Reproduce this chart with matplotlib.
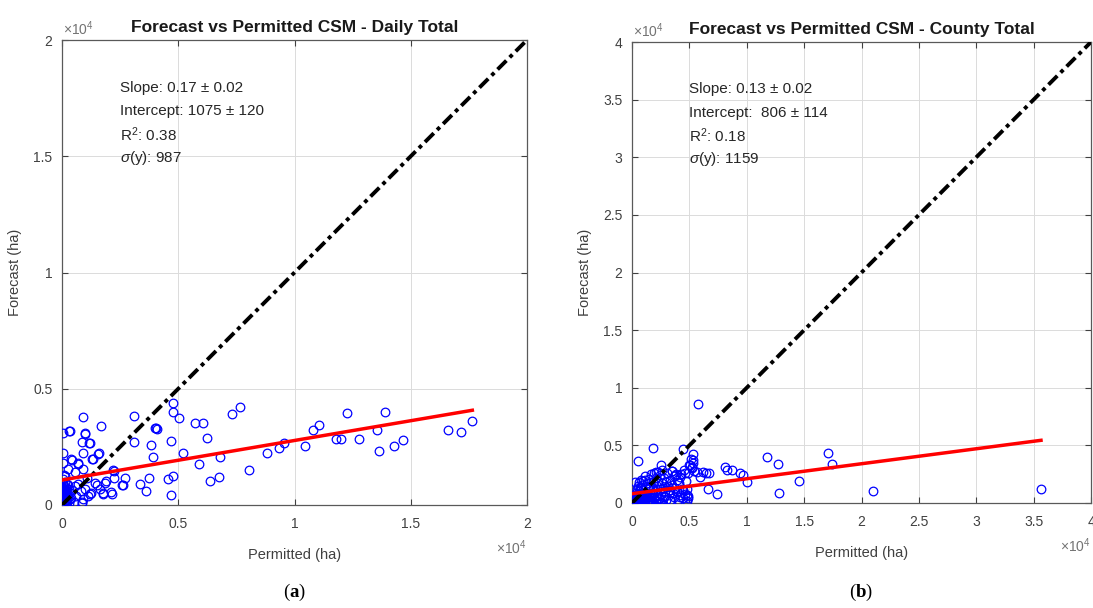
import matplotlib
matplotlib.use("Agg")
import matplotlib.pyplot as plt
import numpy as np

plt.rcParams["font.family"] = ["Liberation Sans", "DejaVu Sans"]
plt.rcParams["mathtext.fontset"] = "custom"
plt.rcParams["mathtext.rm"] = "Liberation Sans"
plt.rcParams["mathtext.it"] = "Liberation Sans:italic"
plt.rcParams["mathtext.bf"] = "Liberation Serif:bold"

# ---- panel (a): daily totals, permitted vs forecast (ha) ----
daily_permitted = [
    4789, 4789, 5046, 7656, 7326, 3111, 918, 315, 29, 1663, 989, 846, 1176, 918, 57,
    373, 1348, 1606, 29, 674, 3111, 3828, 3928, 4020, 4100, 4060, 4674, 5190, 5720,
    6079, 6251, 5906, 6796, 8057, 6753, 6366, 4760, 4545, 4674, 3756, 3613, 3355,
    2710, 2609, 2237, 2237, 2093, 1849, 1778, 1491, 1233, 846, 8803, 9348, 9563,
    10452, 10810, 11068, 11785, 12000, 12272, 12788, 13534, 13892, 13634, 14280,
    14681, 16616, 17147, 17649,
    344, 989, 1204, 1563, 1277, 416, 702, 272, 918, 559, 129, 1061, 2208, 2566,
    2137, 1778, 1204, 846, 1400, 1650, 1900,
    0, 20, 40, 60, 80, 100, 120, 150, 180, 200, 230, 250, 280, 300, 330, 30, 50,
    70, 10, 110, 160, 210, 260, 350, 400, 450, 500, 550, 600, 700, 800, 900, 1000,
    1100, 15, 35, 55, 75, 95, 130, 170, 190, 5, 45, 65, 85,
    25, 60, 90, 140, 0, 110, 220, 70,
]
daily_forecast = [
    4400, 4013, 3728, 4229, 3914, 3828, 3799, 3197, 3111, 3398, 3054, 2724, 2652,
    2251, 2251, 1993, 1978, 2222, 1792, 1792, 2695, 2581, 2050, 3298, 3250, 3330,
    2753, 2222, 3541, 3541, 2896, 1749, 2079, 1505, 1219, 1047, 1247, 1104, 430,
    1147, 602, 889, 1176, 860, 1462, 1147, 573, 932, 502, 860, 502, 100, 2222,
    2437, 2652, 2538, 3226, 3441, 2839, 2839, 3943, 2824, 3226, 3986, 2337, 2538,
    2796, 3226, 3125, 3627,
    3197, 3082, 2652, 2194, 1978, 1935, 1763, 1534, 1534, 1434, 1247, 1147, 1505,
    860, 473, 473, 473, 143, 950, 700, 1050,
    100, 300, 600, 200, 450, 800, 50, 350, 650, 150, 900, 400, 100, 700, 250, 950,
    1100, 1300, 500, 1000, 750, 550, 850, 500, 300, 650, 150, 800, 400, 900, 600,
    250, 700, 400, 250, 450, 700, 150, 550, 350, 200, 600, 0, 750, 50, 300,
    400, 550, 250, 500, 700, 600, 300, 800,
]

# ---- panel (b): county totals ----
county_permitted = [
    5780, 1801, 552, 4416, 5287, 5054, 6216, 6739, 6652, 7380, 8105, 8308, 8688,
    9412, 9644, 9993, 11735, 12692, 12810, 14582, 17108, 17400, 20974, 35643,
    2498, 2090, 3457, 3747, 4183, 4619, 5200, 5636, 5926, 6449, 5345,
    261, 1133, 697, 1859, 2731, 3312, 3893, 4474, 4765, 4910, 4183, 3312, 2586,
    1569, 697, 116,
    30, 60, 90, 120, 150, 180, 200, 220, 260, 300, 320, 350, 380, 400, 420, 450,
    480, 500, 520, 550, 580, 600, 620, 650, 700, 720, 750, 780, 800, 830, 850, 880,
    900, 950, 980, 1000, 1050, 1100, 1120, 1150, 1200, 1250, 1300, 1350, 1400,
    1450, 1500, 1550, 1600, 1650, 1700, 1750, 1800, 1850, 1900, 1950, 2000, 2050,
    2100, 2150, 2200, 2250, 2300, 2350, 2400, 2450, 2500, 2550, 2600, 2650, 2700,
    2750, 2800, 2900, 2950, 3000, 3050, 3100, 3200, 3300, 3350, 3400, 3450, 3500,
    3600, 3650, 3700, 3750, 3800, 3900, 3950, 4000, 4100, 4200, 4300, 4400, 4450,
    4500, 4600, 4700, 4750, 4800, 4850, 4900, 5000, 5100, 5200, 5300, 5400,
    10, 40, 70, 110, 140, 170, 240, 280, 340, 430, 470, 530, 610, 680, 760, 860,
    940, 1020, 1180, 1320, 1480, 1620, 1780, 1920, 2080, 2320, 2480,
]
county_forecast = [
    8560, 4744, 3674, 4685, 4251, 3297, 2718, 2574, 1186, 781, 3095, 2863, 2863,
    2632, 2429, 1851, 3963, 3384, 896, 1938, 4367, 3384, 1041, 1215,
    3297, 2690, 2805, 2429, 2284, 2574, 3095, 2718, 2284, 2574, 3731,
    1851, 1995, 1417, 1128, 1272, 1128, 982, 1128, 694, 405, 549, 260, 0,
    113, 549, 260,
    20, 80, 150, 40, 300, 120, 500, 60, 250, 700, 150, 400, 900, 80, 300, 1200,
    550, 200, 1500, 40, 750, 350, 1800, 1000, 150, 500, 1300, 2000, 600, 250, 900,
    1600, 80, 400, 1100, 1900, 700, 200, 1400, 2300, 500, 900, 1700, 100, 1200,
    2100, 600, 300, 1500, 2500, 900, 200, 1800, 1200, 2600, 500, 1000, 2200,
    150, 1500, 700, 2700, 1900, 400, 1200, 2400, 800, 100, 1700, 2900, 1300,
    500, 2200, 1000, 1800, 300, 2600, 1500, 700, 2000, 1100, 200, 2800, 1600,
    900, 2300, 500, 1300, 2500, 1000, 2000, 300, 1700, 700, 2500, 1200, 400,
    2900, 800, 1900, 200, 1200, 600, 2600, 3300, 3800, 3000, 3500, 2800,
    300, 500, 250, 650, 100, 450, 350, 600, 150, 500, 250, 700, 400, 200, 600, 300,
    500, 250, 350, 450, 150, 550, 300, 400, 200, 350, 100,
]

# fit results shown on each panel
panels = [
    dict(x=daily_permitted, y=daily_forecast, slope=0.17, intercept=1075, lim=2e4,
         title="Forecast vs Permitted CSM - Daily Total",
         stats=["Slope: 0.17 \u00b1 0.02", "Intercept: 1075 \u00b1 120",
                r"R$^2$: 0.38", r"$\sigma$(y): 987"],
         ticks=[0, 5000, 10000, 15000, 20000],
         ticklabels=["0", "0.5", "1", "1.5", "2"],
         tag="a", rect=[62 / 1093, 103 / 608, 465 / 1093, 465 / 608]),
    dict(x=county_permitted, y=county_forecast, slope=0.13, intercept=806, lim=4e4,
         title="Forecast vs Permitted CSM - County Total",
         stats=["Slope: 0.13 \u00b1 0.02", "Intercept:  806 \u00b1 114",
                r"R$^2$: 0.18", r"$\sigma$(y): 1159"],
         ticks=[0, 5000, 10000, 15000, 20000, 25000, 30000, 35000, 40000],
         ticklabels=["0", "0.5", "1", "1.5", "2", "2.5", "3", "3.5", "4"],
         tag="b", rect=[632 / 1093, 105 / 608, 459 / 1093, 461 / 608]),
]

fig = plt.figure(figsize=(10.93, 6.08), dpi=100)
gray = "0.25"

for p in panels:
    ax = fig.add_axes(p["rect"])
    x = np.array(p["x"], dtype=float)
    y = np.array(p["y"], dtype=float)

    ax.plot(x, y, "o", mfc="none", mec="blue", ms=6.2, mew=0.9, zorder=3)
    ax.plot([0, p["lim"]], [0, p["lim"]], color="black", lw=2.8,
            dashes=(3.2, 1.2, 1.0, 1.2), zorder=4)
    xf = np.array([x.min(), x.max()])
    ax.plot(xf, p["slope"] * xf + p["intercept"], color="red", lw=2.5, zorder=5)

    ax.set_xlim(0, p["lim"])
    ax.set_ylim(0, p["lim"])
    ax.set_xticks(p["ticks"])
    ax.set_xticklabels(p["ticklabels"])
    ax.set_yticks(p["ticks"])
    ax.set_yticklabels(p["ticklabels"])
    ax.tick_params(direction="in", length=4.5, width=0.8, colors=gray,
                   labelsize=10, top=True, right=True, pad=7)
    ax.tick_params(axis="x", pad=9)
    ax.grid(True, color="0.86", lw=0.7)
    ax.set_axisbelow(True)
    for s in ax.spines.values():
        s.set_color("0.35")
        s.set_linewidth(0.9)

    ax.set_title(p["title"], fontsize=12.5, fontweight="bold", pad=6, color="0.1")
    ax.set_xlabel("Permitted (ha)", fontsize=10.5, color=gray, labelpad=12)
    ax.set_ylabel("Forecast (ha)", fontsize=10.5, color=gray, labelpad=8)

    ax.text(0.003, 1.004, r"$\times$10$^4$", transform=ax.transAxes, fontsize=10,
            color="0.45", ha="left", va="bottom")
    ax.text(1.0, -0.092, r"$\times$10$^4$", transform=ax.transAxes, fontsize=10,
            color="0.45", ha="right", va="center")

    for i, line in enumerate(p["stats"]):
        ax.text(0.125, 0.897 - i * 0.05, line, transform=ax.transAxes,
                fontsize=11, color="0.15", ha="left", va="center")

    # panel tag, same height under both panels
    cx = p["rect"][0] + p["rect"][2] / 2
    fig.text(cx, 0.026, "(" + r"$\mathbf{" + p["tag"] + "}$" + ")",
             fontsize=13.5, ha="center", va="center",
             family=["Liberation Serif"], color="black")

fig.savefig("out.png", dpi=100)
